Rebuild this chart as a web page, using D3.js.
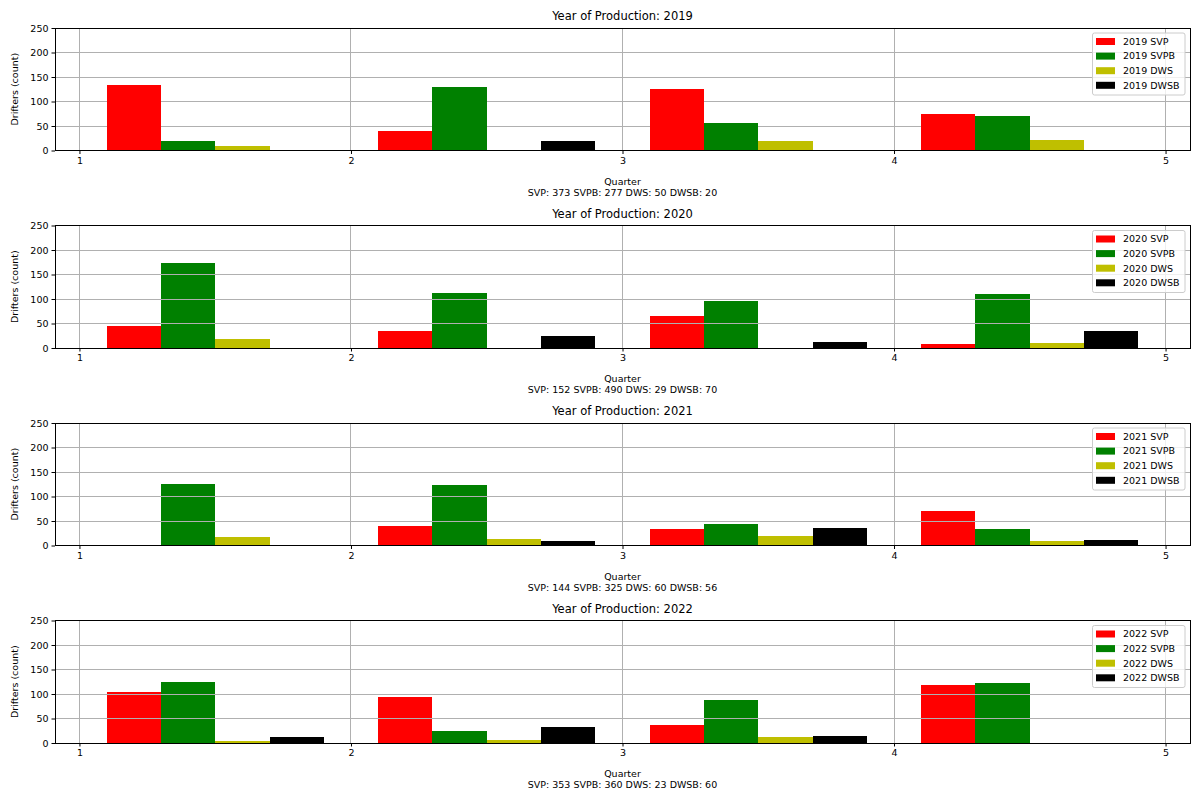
<!DOCTYPE html>
<html>
<head>
<meta charset="utf-8">
<script src="https://cdn.jsdelivr.net/npm/d3@7"></script>
<style>
  html, body { margin: 0; padding: 0; background: #fff; }
  svg { display: block; font-family: "DejaVu Sans", sans-serif; }
</style>
</head>
<body>
<svg id="chart" width="1200" height="800"></svg>
<script>
// ---- data ----
const years = [2019, 2020, 2021, 2022];
const quarters = [1, 2, 3, 4];
const seriesNames = ["SVP", "SVPB", "DWS", "DWSB"];
const seriesColors = ["#ff0000", "#008000", "#bfbf00", "#000000"];
const svp  = [[134, 40, 125, 74], [44, 34, 66, 8],   [0, 40, 34, 70],   [105, 93, 36, 119]];
const svpb = [[20, 130, 56, 71],  [173, 112, 95, 110], [125, 124, 43, 33], [125, 24, 88, 123]];
const dws  = [[9, 0, 19, 22],     [19, 0, 0, 10],    [17, 14, 19, 10],  [4, 6, 13, 0]];
const dwsb = [[0, 20, 0, 0],      [0, 24, 12, 34],   [0, 10, 35, 11],   [12, 33, 15, 0]];
const xTicks = [1, 2, 3, 4, 5];
const yTicks = [0, 50, 100, 150, 200, 250];

const allSeries = [svp, svpb, dws, dwsb];
const svg = d3.select("#chart");

const left = 55, right = 1190;
const panelTop0 = 28, panelPitch = 197.5, panelH = 122.5;
const barW = 0.2;

const x = d3.scaleLinear().domain([0.91, 5.09]).range([left, right]);

years.forEach((year, yi) => {
  const top = panelTop0 + yi * panelPitch;
  const bottom = top + panelH;
  const y = d3.scaleLinear().domain([0, 250]).range([bottom, top]);
  const g = svg.append("g");

  const gridOnTop = yi > 0;

  function drawGrid(parent) {
    const gg = parent.append("g").attr("class", "grid");
    gg.selectAll("line.gx").data(xTicks).enter().append("line")
      .attr("x1", d => x(d)).attr("x2", d => x(d))
      .attr("y1", top).attr("y2", bottom)
      .attr("stroke", "#b0b0b0").attr("stroke-width", 1).attr("shape-rendering", "crispEdges");
    gg.selectAll("line.gy").data(yTicks).enter().append("line")
      .attr("x1", left).attr("x2", right)
      .attr("y1", d => y(d)).attr("y2", d => y(d))
      .attr("stroke", "#b0b0b0").attr("stroke-width", 1).attr("shape-rendering", "crispEdges");
  }

  if (!gridOnTop) drawGrid(g);

  // bars
  allSeries.forEach((s, si) => {
    g.append("g").selectAll("rect").data(quarters.map((q, qi) => ({ q, v: s[yi][qi] })))
      .enter().append("rect")
      .attr("x", d => x(d.q + 0.1 + si * barW))
      .attr("width", d => x(d.q + 0.1 + (si + 1) * barW) - x(d.q + 0.1 + si * barW))
      .attr("y", d => y(d.v))
      .attr("height", d => y(0) - y(d.v))
      .attr("fill", seriesColors[si])
      .attr("shape-rendering", "crispEdges");
  });

  if (gridOnTop) drawGrid(g);

  // axes frame
  g.append("rect").attr("x", left).attr("y", top).attr("width", right - left).attr("height", panelH)
    .attr("fill", "none").attr("stroke", "#000").attr("stroke-width", 1).attr("shape-rendering", "crispEdges");

  // x axis
  const xa = d3.axisBottom(x).tickValues(xTicks).tickFormat(d3.format("d")).tickSizeInner(3.5).tickSizeOuter(0).tickPadding(3);
  const gx = g.append("g").attr("transform", `translate(0,${bottom})`).call(xa);
  gx.select(".domain").remove();
  gx.selectAll("text").attr("font-size", "9.5px").attr("fill", "#000").attr("font-family", "DejaVu Sans");
  gx.selectAll("line").attr("stroke", "#000");

  // y axis
  const ya = d3.axisLeft(y).tickValues(yTicks).tickFormat(d3.format("d")).tickSizeInner(3.5).tickSizeOuter(0).tickPadding(3);
  const gy = g.append("g").attr("transform", `translate(${left},0)`).call(ya);
  gy.select(".domain").remove();
  gy.selectAll("text").attr("font-size", "9.5px").attr("fill", "#000").attr("font-family", "DejaVu Sans");
  gy.selectAll("line").attr("stroke", "#000");

  // title
  g.append("text").attr("x", (left + right) / 2).attr("y", top - 8)
    .attr("text-anchor", "middle").attr("font-size", "11.5px").attr("fill", "#000")
    .text(`Year of Production: ${year}`);

  // y label
  g.append("text")
    .attr("transform", `translate(18,${(top + bottom) / 2}) rotate(-90)`)
    .attr("text-anchor", "middle").attr("font-size", "9.5px").attr("fill", "#000")
    .text("Drifters (count)");

  // x label + totals
  g.append("text").attr("x", (left + right) / 2).attr("y", bottom + 34)
    .attr("text-anchor", "middle").attr("font-size", "9.5px").attr("fill", "#000")
    .text("Quarter");
  const totals = allSeries.map(s => d3.sum(s[yi]));
  g.append("text").attr("x", (left + right) / 2).attr("y", bottom + 45)
    .attr("text-anchor", "middle").attr("font-size", "9.5px").attr("fill", "#000")
    .text(seriesNames.map((n, i) => `${n}: ${totals[i]}`).join(" "));

  // legend
  const lx = 1092.5, ly = top + 5, lw = 92.5, lh = 62;
  const lg = g.append("g");
  lg.append("rect").attr("x", lx).attr("y", ly).attr("width", lw).attr("height", lh)
    .attr("rx", 2).attr("fill", "#fff").attr("fill-opacity", 0.8)
    .attr("stroke", "#cccccc").attr("stroke-width", 1);
  seriesNames.forEach((n, i) => {
    const cy = ly + 8.5 + i * 14.6;
    lg.append("rect").attr("x", lx + 3.5).attr("y", cy - 3.5).attr("width", 19).attr("height", 7)
      .attr("fill", seriesColors[i]);
    lg.append("text").attr("x", lx + 30.5).attr("y", cy).attr("dy", "0.35em")
      .attr("font-size", "9.5px").attr("fill", "#000").text(`${year} ${n}`);
  });
});
</script>
</body>
</html>
